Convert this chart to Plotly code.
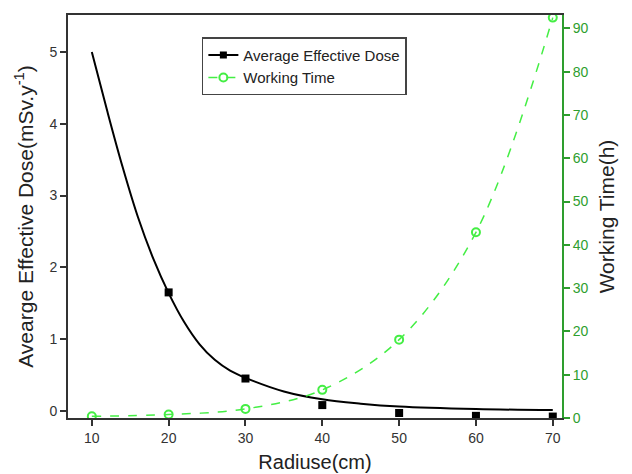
import plotly.graph_objects as go

# Data
radius = [10, 20, 30, 40, 50, 60, 70]
dose_points = [None, 1.65, 0.45, 0.08, -0.03, -0.07, -0.08]
work_time = [0.4, 0.8, 2.1, 6.5, 18.1, 42.9, 92.5]

fit_x = [10, 12, 14, 16, 18, 20, 22, 24, 26, 28, 30, 35, 40, 45, 50, 60, 70]
fit_dose = [5.0, 4.18, 3.4, 2.7, 2.12, 1.64, 1.24, 0.93, 0.71, 0.56, 0.46, 0.27, 0.16, 0.1, 0.06, 0.025, 0.01]

x_ticks = [10, 20, 30, 40, 50, 60, 70]
y_ticks = [0, 1, 2, 3, 4, 5]
y2_ticks = [0, 10, 20, 30, 40, 50, 60, 70, 80, 90]

FONT = "Liberation Sans, Arial, sans-serif"
GREEN_AX = "#2e9e2e"
GREEN_LN = "#44ee44"

fig = go.Figure()

fig.add_trace(go.Scatter(
    x=fit_x, y=fit_dose, mode="lines", line=dict(color="black", width=2, shape="spline", smoothing=1.0),
    showlegend=False, hoverinfo="skip"))
fig.add_trace(go.Scatter(
    x=radius, y=dose_points, mode="markers",
    marker=dict(symbol="square", size=8, color="black"), showlegend=False))
# legend entry for dose (line + square)
fig.add_trace(go.Scatter(
    x=[None], y=[None], mode="lines+markers", name="Average Effective Dose",
    line=dict(color="black", width=2), marker=dict(symbol="square", size=7, color="black")))
fig.add_trace(go.Scatter(
    x=radius, y=work_time, mode="lines+markers", name="Working Time", yaxis="y2",
    line=dict(color=GREEN_LN, width=1.5, dash="dash", shape="spline"),
    marker=dict(symbol="circle-open", size=8, color=GREEN_LN, line=dict(width=2, color=GREEN_LN))))

fig.update_layout(
    width=624, height=466,
    margin=dict(l=60, r=70, t=7, b=56),
    paper_bgcolor="white", plot_bgcolor="white",
    font=dict(family=FONT, size=14, color="#333333"),
    xaxis=dict(
        range=[6.9, 71.2], tickvals=x_ticks, ticks="outside", ticklen=6, tickwidth=1.5,
        tickcolor="#333333", showline=True, linecolor="#333333", linewidth=2, mirror=True,
        showgrid=False, zeroline=False, automargin=False,
        title=dict(text="Radiuse(cm)", font=dict(size=20, color="#222222"), standoff=10),
        tickfont=dict(size=14, color="#333333")),
    yaxis=dict(
        range=[-0.1, 5.515], tickvals=y_ticks, ticks="outside", ticklen=6, tickwidth=1.5,
        tickcolor="#333333", showline=True, linecolor="#333333", linewidth=2,
        showgrid=False, zeroline=False, automargin=False,
        title=dict(text="Avearge Effective Dose(mSv.y<sup>-1</sup>)", font=dict(size=21, color="#222222"), standoff=10),
        tickfont=dict(size=14, color="#333333")),
    yaxis2=dict(
        overlaying="y", side="right", range=[0, 93.1], tickvals=y2_ticks, ticks="outside",
        ticklen=6, tickwidth=1.5, tickcolor=GREEN_AX, showline=True, linecolor=GREEN_AX,
        linewidth=2, showgrid=False, zeroline=False, automargin=False,
        title=dict(text="Working Time(h)", font=dict(size=21, color="#222222"), standoff=12),
        tickfont=dict(size=14, color=GREEN_AX)),
    legend=dict(
        x=0.271, y=0.945, xanchor="left", yanchor="top",
        bgcolor="white", bordercolor="#444444", borderwidth=1.5,
        font=dict(size=15, color="#222222"), tracegroupgap=0, itemwidth=30),
)

fig.write_html("out.html")
